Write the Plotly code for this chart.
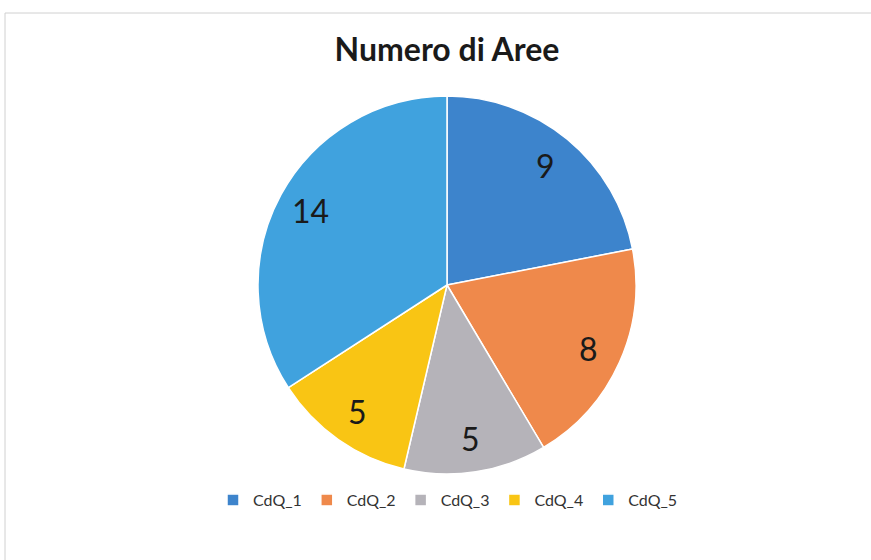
import math
import plotly.graph_objects as go

labels = ["CdQ_1", "CdQ_2", "CdQ_3", "CdQ_4", "CdQ_5"]
values = [9, 8, 5, 5, 14]
colors = ["#3D84CC", "#EF894B", "#B5B3B9", "#F9C514", "#40A2DE"]

W, H = 871, 560
cx, cy, R = 447, 285, 189
label_r = 0.82

dom_x = [(cx - R) / W, (cx + R) / W]
dom_y = [1 - (cy + R) / H, 1 - (cy - R) / H]

fig = go.Figure(go.Pie(
    labels=labels, values=values, sort=False, direction="clockwise", rotation=0,
    marker=dict(colors=colors, line=dict(color="white", width=1.5)),
    textinfo="none",
    domain=dict(x=dom_x, y=dom_y),
    hoverinfo="label+value",
))

# value labels placed at the slice mid-angle (Excel-style "best fit" position)
total = sum(values)
cum = 0
annotations = []
for v in values:
    mid = (cum + v / 2) / total * 2 * math.pi
    cum += v
    ang = math.pi / 2 - mid
    px = cx + label_r * R * math.cos(ang)
    py = cy - label_r * R * math.sin(ang)
    annotations.append(dict(
        x=px / W, y=1 - py / H, xref="paper", yref="paper", showarrow=False,
        text=str(v), xanchor="center", yanchor="middle",
        font=dict(family="Lato, Open Sans, sans-serif", size=32, color="#1a1a1a"),
    ))

fig.update_layout(
    width=W, height=H, margin=dict(l=0, r=0, t=0, b=0),
    paper_bgcolor="white", plot_bgcolor="white",
    title=dict(text="<b>Numero di Aree</b>", x=447 / W, xanchor="center", y=1 - 50 / H, yanchor="middle",
               font=dict(family="Lato, Open Sans, sans-serif", size=32, color="#1a1a1a")),
    showlegend=True,
    legend=dict(orientation="h", x=448 / W, xanchor="center", y=1 - 500 / H, yanchor="middle",
                font=dict(family="Lato, Open Sans, sans-serif", size=16, color="#333333"),
                itemwidth=30, traceorder="normal"),
    annotations=annotations,
    shapes=[dict(type="rect", xref="paper", yref="paper", x0=5 / W, x1=1.01, y0=-0.01, y1=1 - 13 / H,
                 line=dict(color="#d0d0d0", width=1))],
)

fig.write_html("out.html", config={"displayModeBar": False},
               post_script="document.body.style.margin='0';document.body.style.padding='0';")
